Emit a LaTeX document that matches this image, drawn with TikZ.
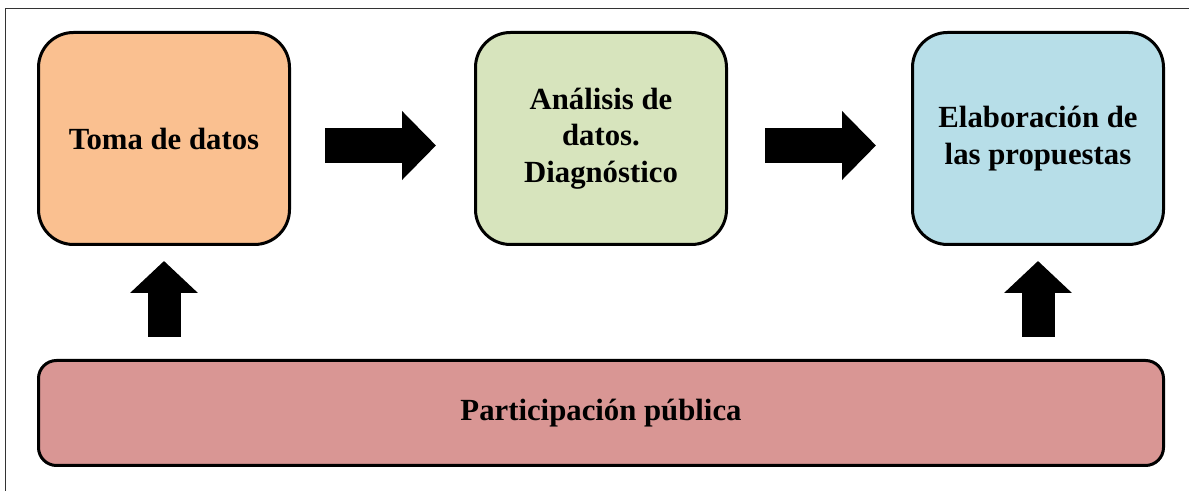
\documentclass[tikz,border=0pt]{standalone}
\usepackage{fontspec}
\setmainfont{Liberation Serif}
\usepackage{xcolor}
\usepackage{tikz}
\usetikzlibrary{arrows.meta,positioning}

\definecolor{tomacol}{HTML}{FAC090}
\definecolor{analcol}{HTML}{D7E4BD}
\definecolor{elabcol}{HTML}{B7DEE8}
\definecolor{partcol}{HTML}{D99694}

\begin{document}
\begin{tikzpicture}[node distance=3.66cm,
                    stage node/.style={rectangle,draw,line width=0.06cm,rounded corners=0.7cm,
                        minimum width=5.02cm,minimum height=4.24cm,align=center,
                        font=\fontsize{17.5}{20.7}\selectfont\bfseries},
                    side arrow/.style={line width=0.7cm,-{Triangle[length=0.68cm,width=1.34cm]}},
                    up arrow/.style={line width=0.66cm,-{Triangle[length=0.64cm,width=1.32cm]}}]

    \useasboundingbox (0,0) rectangle (23.78,9.82);
    \draw[line width=0.5pt,black!80] (0.11,-0.2) -- (0.11,9.66) -- (24,9.66);

    \node[stage node, fill=tomacol] (toma) at (3.28,7.05) {Toma de datos};
    \node[stage node, fill=analcol] (anal) [right=of toma] {Análisis de\\datos.\\Diagnóstico};
    \node[stage node, fill=elabcol] (elab) [right=of anal] {Elaboración de\\las propuestas};
    \node[stage node, fill=partcol, rounded corners=0.36cm,minimum width=22.5cm,
          minimum height=2.1cm] (part) [below=2.26cm of anal] {Participación pública};

    \draw[side arrow, shorten <=0.68cm, shorten >=0.76cm]
        ([yshift=-0.14cm]toma.east) -- ([yshift=-0.14cm]anal.west);
    \draw[side arrow, shorten <=0.74cm, shorten >=0.70cm]
        ([yshift=-0.14cm]anal.east) -- ([yshift=-0.14cm]elab.west);
    \draw[up arrow, shorten <=0.44cm, shorten >=0.3cm] (toma.south |- part.north) -- (toma.south);
    \draw[up arrow, shorten <=0.44cm, shorten >=0.3cm] (elab.south |- part.north) -- (elab.south);
\end{tikzpicture}
\end{document}
